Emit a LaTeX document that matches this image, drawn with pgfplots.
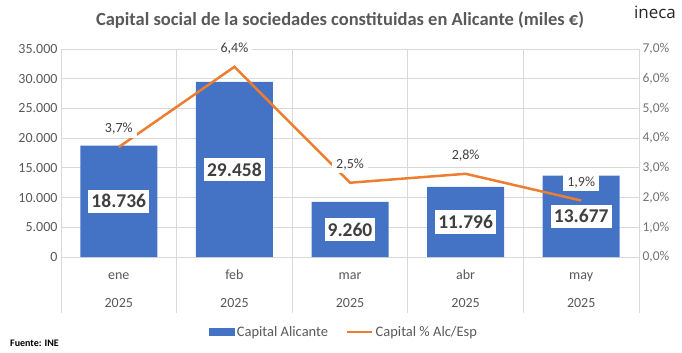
\documentclass[border=0pt]{standalone}
\usepackage{pgfplots}
\pgfplotsset{compat=1.18}
\usepackage{pgfplotstable}
\usepackage{fontspec}
\setmainfont{Carlito}
\newfontfamily\logofont{Open Sans}
\definecolor{barblue}{HTML}{4472C4}
\definecolor{lineorange}{HTML}{ED7D31}
\definecolor{txtgray}{HTML}{595959}
\definecolor{gridgray}{HTML}{D9D9D9}
\definecolor{lbl}{HTML}{404040}

\pgfplotstableread{
x cap pct
0 18736 3.7
1 29458 6.4
2 9260 2.5
3 11796 2.8
4 13677 1.9
}\datatable

\begin{document}
\begin{tikzpicture}
\useasboundingbox (-61pt,-96pt) rectangle (621pt,257pt);
\begin{axis}[
  at={(0pt,0pt)}, anchor=south west,
  scale only axis, width=578pt, height=208pt,
  xmin=-0.5, xmax=4.5, ymin=0, ymax=35000,
  ytick={0,5000,...,35000},
  ymajorgrids, grid style={gridgray, line width=0.8pt},
  axis line style={draw=none},
  xtick={0,...,4},
  xticklabels={\strut ene\\[13pt]\strut 2025, \strut feb\\[13pt]\strut 2025, \strut mar\\[13pt]\strut 2025, \strut abr\\[13pt]\strut 2025, \strut may\\[13pt]\strut 2025},
  xticklabel style={align=center, font=\fontsize{14}{15}\selectfont, text=txtgray, yshift=-8pt},
  yticklabel style={font=\fontsize{14}{15}\selectfont, text=txtgray},
  major tick length=0pt,
  xtick pos=lower, ytick pos=left,
  extra x ticks={-0.5,0.5,1.5,2.5,3.5,4.5},
  extra x tick labels={},
  extra x tick style={grid=major, major tick length=56pt, tick align=outside, tick style={gridgray, line width=0.8pt}},
  scaled y ticks=false,
  /pgf/number format/.cd, 1000 sep={.}, assume math mode=true,
  /tikz/.cd,
  clip=false,
]
\addplot[ybar, bar width=77pt, fill=barblue, draw=none, bar shift=0pt] table[x=x, y=cap]{\datatable};
\addplot[draw=none, mark=none, point meta=explicit,
  nodes near coords={\pgfmathprintnumber[1000 sep={.}, assume math mode=true]{\pgfplotspointmeta}},
  every node near coord/.append style={anchor=center, fill=white, text=lbl, inner xsep=3pt, inner ysep=5pt,
    font=\bfseries\fontsize{19.5}{20}\selectfont}]
  table[x=x, y expr=\thisrow{cap}/2, meta=cap]{\datatable};
\end{axis}
\begin{axis}[
  at={(0pt,0pt)}, anchor=south west,
  scale only axis, width=578pt, height=208pt,
  xmin=-0.5, xmax=4.5, ymin=0, ymax=7,
  axis x line=none, axis y line*=right,
  y axis line style={draw=none},
  ytick={0,1,...,7},
  major tick length=0pt,
  yticklabel={\pgfmathprintnumber[fixed, fixed zerofill, precision=1, use comma, assume math mode=true]{\tick}\%},
  yticklabel style={font=\fontsize{13.5}{14}\selectfont, text=txtgray!85},
  clip=false,
  legend columns=2,
  legend style={draw=none, fill=none, at={(0.49,-0.36)}, anchor=center,
    font=\fontsize{14.5}{15}\selectfont, text=txtgray,
    /tikz/every even column/.append style={column sep=16pt}},
]
\addlegendimage{legend image code/.code={\fill[barblue] (0pt,-3.5pt) rectangle (25pt,3.5pt);}}
\addlegendentry{Capital Alicante}
\addplot[lineorange, line width=2.5pt, mark=none, point meta=y,
  nodes near coords={\pgfmathprintnumber[fixed, fixed zerofill, precision=1, use comma, assume math mode=true]{\pgfplotspointmeta}\%},
  every node near coord/.append style={anchor=center, yshift=18pt, fill=white, inner xsep=4pt, inner ysep=3pt, text=lbl,
    font=\fontsize{14}{15}\selectfont},
  legend image code/.code={\draw[lineorange, line width=2.5pt] (0pt,0pt) -- (25pt,0pt);}]
  table[x=x, y=pct]{\datatable};
\addlegendentry{Capital \% Alc/Esp}
\end{axis}
\node[font=\bfseries\fontsize{18.5}{19}\selectfont, text=txtgray] at (279pt,237pt) {Capital social de la sociedades constituidas en Alicante (miles €)};
\node[font=\logofont\fontsize{17}{17}\selectfont, text=black!85] at (594pt,245pt) {ineca};
\node[anchor=west, font=\bfseries\fontsize{10}{10}\selectfont, inner sep=0pt] at (-51pt,-86pt) {Fuente: INE};
\end{tikzpicture}
\end{document}
